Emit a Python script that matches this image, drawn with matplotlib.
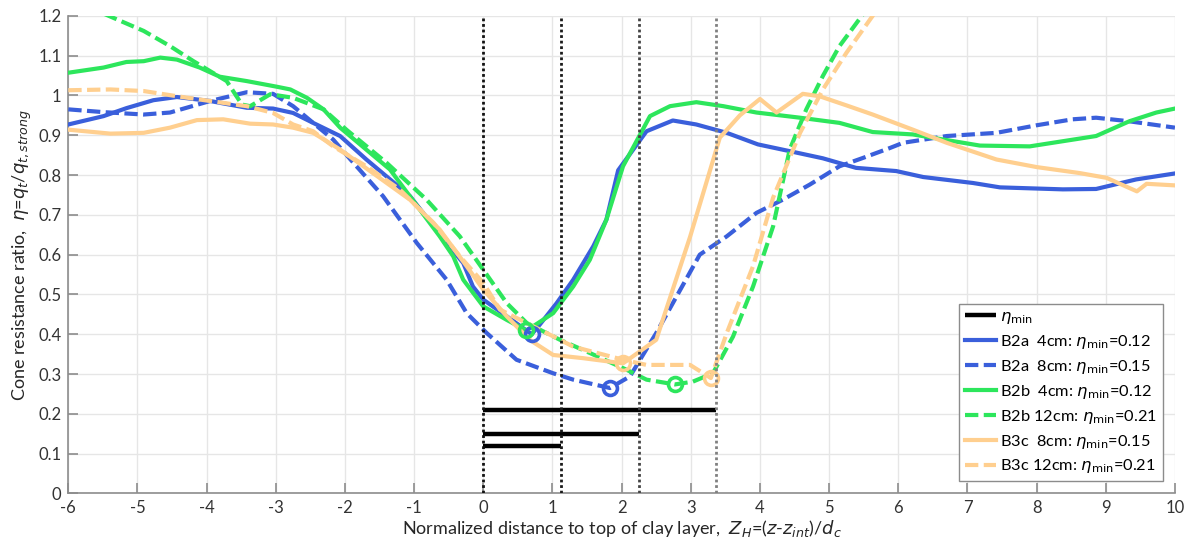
import matplotlib
matplotlib.use("Agg")
import matplotlib.pyplot as plt
from matplotlib.ticker import FuncFormatter

plt.rcParams['font.family'] = ['Lato', 'DejaVu Sans']
plt.rcParams['mathtext.fontset'] = 'dejavusans'

# ---- data ----
b2a4_x = [-6, -5.49, -5.16, -4.77, -4.43, -3.95, -3.42, -3.04, -2.75, -2.46, -2.07, -1.69, -1.06,
          -0.53, -0.29, -0.15, 0, 0.34, 0.70, 0.82, 1.06, 1.30, 1.59, 1.78, 1.95, 2.36, 2.74, 3.08, 3.52,
          3.97, 4.43, 4.91, 5.39, 5.97, 6.36, 7.08, 7.47, 8.38, 8.86, 9.44, 10]
b2a4_y = [0.927, 0.948, 0.968, 0.988, 0.996, 0.986, 0.969, 0.967, 0.956, 0.931, 0.898, 0.839, 0.747,
          0.629, 0.579, 0.520, 0.487, 0.445, 0.400, 0.425, 0.478, 0.537, 0.621, 0.688, 0.812, 0.910, 0.937,
          0.927, 0.906, 0.877, 0.860, 0.842, 0.818, 0.810, 0.795, 0.780, 0.769, 0.764, 0.765, 0.789, 0.804]

b2a8_x = [-6, -5.49, -4.91, -4.53, -3.95, -3.42, -3.04, -2.75, -2.46, -2.17, -1.92, -1.45, -0.96, -0.53,
          -0.24, 0.05, 0.48, 1.01, 1.30, 1.83, 2.12, 2.50, 3.13, 3.52, 3.95, 4.33, 4.72, 5.15, 5.49, 5.88,
          6.07, 6.70, 7.42, 8.0, 8.52, 8.86, 9.34, 10]
b2a8_y = [0.965, 0.958, 0.952, 0.957, 0.986, 1.008, 1.004, 0.973, 0.931, 0.889, 0.839, 0.747, 0.629, 0.537,
          0.453, 0.403, 0.336, 0.302, 0.286, 0.265, 0.294, 0.403, 0.600, 0.646, 0.705, 0.738, 0.776, 0.822,
          0.843, 0.868, 0.881, 0.898, 0.906, 0.925, 0.940, 0.944, 0.935, 0.919]

b2b4_x = [-6, -5.49, -5.16, -4.91, -4.67, -4.43, -4.10, -3.81, -3.42, -2.99, -2.79, -2.55, -2.31, -2.07,
          -1.35, -0.63, -0.435, -0.29, 0, 0.34, 0.62, 0.72, 1.01, 1.30, 1.54, 1.78, 2.02, 2.41, 2.70, 3.08,
          3.47, 3.95, 4.58, 5.15, 5.63, 6.21, 7.18, 7.90, 8.86, 9.34, 9.73, 10]
b2b4_y = [1.057, 1.070, 1.084, 1.086, 1.095, 1.090, 1.070, 1.047, 1.036, 1.022, 1.015, 0.994, 0.965, 0.919,
          0.814, 0.646, 0.596, 0.537, 0.470, 0.436, 0.410, 0.420, 0.453, 0.520, 0.587, 0.688, 0.822, 0.948,
          0.973, 0.983, 0.973, 0.957, 0.944, 0.931, 0.908, 0.902, 0.874, 0.872, 0.898, 0.935, 0.957, 0.967]

b2b12_x = [-6, -5.47, -4.91, -4.53, -4.19, -3.95, -3.71, -3.49, -3.37, -3.08, -2.75, -2.31, -1.98, -1.40,
           -0.82, -0.34, 0, 0.34, 0.63, 1.11, 1.54, 2.07, 2.36, 2.77, 3.03, 3.32, 3.61, 3.90, 4.19, 4.43,
           4.67, 4.91, 5.15, 5.49, 5.80]
b2b12_y = [1.244, 1.204, 1.162, 1.124, 1.086, 1.061, 1.036, 0.977, 0.973, 1.003, 0.994, 0.965, 0.914, 0.831,
           0.738, 0.646, 0.562, 0.478, 0.428, 0.386, 0.353, 0.311, 0.286, 0.274, 0.281, 0.302, 0.394, 0.520,
           0.671, 0.864, 0.965, 1.049, 1.124, 1.204, 1.260]

b3c8_x = [-6, -5.39, -4.91, -4.53, -4.14, -3.76, -3.37, -3.04, -2.75, -2.46, -2.07, -1.06, -0.63, -0.24,
          0, 0.34, 0.67, 1.01, 1.44, 2.02, 2.50, 2.99, 3.42, 3.71, 4.0, 4.24, 4.62, 4.86, 5.25, 5.63, 6.21,
          6.70, 7.42, 8.0, 8.62, 9.01, 9.45, 9.59, 10]
b3c8_y = [0.914, 0.904, 0.906, 0.919, 0.938, 0.940, 0.929, 0.927, 0.919, 0.906, 0.864, 0.738, 0.663, 0.571,
          0.512, 0.445, 0.386, 0.348, 0.340, 0.327, 0.386, 0.645, 0.894, 0.950, 0.991, 0.957, 1.004, 0.998,
          0.975, 0.952, 0.914, 0.881, 0.839, 0.820, 0.805, 0.793, 0.759, 0.778, 0.774]

b3c12_x = [-6, -5.39, -4.91, -4.43, -3.95, -3.42, -3.04, -2.75, -2.46, -2.17, -1.69, -1.21, -0.72, -0.34,
           0, 0.24, 0.63, 1.11, 1.30, 2.02, 2.36, 2.99, 3.29, 3.52, 3.90, 4.19, 4.58, 4.91, 5.25, 5.63, 5.90]
b3c12_y = [1.013, 1.015, 1.011, 0.998, 0.986, 0.973, 0.956, 0.927, 0.910, 0.872, 0.822, 0.764, 0.680, 0.596,
           0.529, 0.462, 0.428, 0.386, 0.369, 0.336, 0.323, 0.323, 0.290, 0.403, 0.571, 0.743, 0.906, 1.015,
           1.107, 1.200, 1.270]

series_labels = ['B2a  4cm: $\\eta_{\\rm min}$=0.12', 'B2a  8cm: $\\eta_{\\rm min}$=0.15',
                 'B2b  4cm: $\\eta_{\\rm min}$=0.12', 'B2b 12cm: $\\eta_{\\rm min}$=0.21',
                 'B3c  8cm: $\\eta_{\\rm min}$=0.15', 'B3c 12cm: $\\eta_{\\rm min}$=0.21']
min_x = [0.70, 1.83, 0.62, 2.77, 2.02, 3.29]
min_y = [0.400, 0.265, 0.410, 0.274, 0.327, 0.290]

eta_min = [0.12, 0.15, 0.21]
eta_extent = [1.13, 2.25, 3.37]
vline_x = [0, 1.13, 2.25, 3.37]

x_ticks = list(range(-6, 11))
y_ticks = [0, 0.1, 0.2, 0.3, 0.4, 0.5, 0.6, 0.7, 0.8, 0.9, 1.0, 1.1, 1.2]

# ---- styles ----
BLUE = '#3a5fdb'
GREEN = '#2de65c'
ORANGE = '#ffcf8f'
colors = [BLUE, BLUE, GREEN, GREEN, ORANGE, ORANGE]
dash = (0, (3.2, 1.3))
styles = ['-', dash, '-', dash, '-', dash]
vline_colors = ['#111111', '#1a1a1a', '#444444', '#808080']

fig = plt.figure(figsize=(11.92, 5.45), dpi=100)
ax = fig.add_axes([0.0573, 0.0945, 0.9284, 0.8765])

# eta_min horizontal bars
h_eta, = ax.plot([0, eta_extent[2]], [eta_min[2], eta_min[2]], color='black', lw=3.2, zorder=2,
                 solid_capstyle='butt', label='$\\eta_{\\rm min}$')
for e, ext in zip(eta_min[:2], eta_extent[:2]):
    ax.plot([0, ext], [e, e], color='black', lw=3.2, zorder=2, solid_capstyle='butt')

xs = [b2a4_x, b2a8_x, b2b4_x, b2b12_x, b3c8_x, b3c12_x]
ys = [b2a4_y, b2a8_y, b2b4_y, b2b12_y, b3c8_y, b3c12_y]
handles = [h_eta]
for i in range(6):
    h, = ax.plot(xs[i], ys[i], color=colors[i], linestyle=styles[i], lw=3.0, zorder=3,
                 label=series_labels[i])
    handles.append(h)
    ax.plot([min_x[i]], [min_y[i]], marker='o', ms=10, mfc='none', mec=colors[i], mew=2.6,
            linestyle='none', zorder=4)

for xv, c in zip(vline_x, vline_colors):
    ax.axvline(xv, color=c, lw=2.0, linestyle=(0, (1, 1)), zorder=5)

ax.set_xlim(-6, 10)
ax.set_ylim(0, 1.2)
ax.set_xticks(x_ticks)
ax.set_yticks(y_ticks)
ax.xaxis.set_major_formatter(FuncFormatter(lambda v, p: '%g' % v))
ax.yaxis.set_major_formatter(FuncFormatter(lambda v, p: '%g' % round(v, 2)))
ax.grid(True, color='#e6e6e6', lw=1.0, zorder=0)
ax.set_axisbelow(True)
for s in ['top', 'right']:
    ax.spines[s].set_visible(False)
for s in ['left', 'bottom']:
    ax.spines[s].set_color('#8c8c8c')
    ax.spines[s].set_linewidth(1.2)
ax.tick_params(direction='in', length=7, width=1.2, color='#8c8c8c', labelcolor='#333333',
               labelsize=12, pad=5)

ax.set_xlabel('Normalized distance to top of clay layer,  $Z_H$=($z$-$z_{int}$)/$d_c$',
              fontsize=13, color='#262626', labelpad=1)
ax.set_ylabel('Cone resistance ratio,  $\\eta$=$q_t$/$q_{t,strong}$', fontsize=13,
              color='#262626', labelpad=3)

leg = ax.legend(handles=handles, loc='lower right', fontsize=11.8, handlelength=1.9,
                handletextpad=0.25, labelspacing=0.42, borderpad=0.35, borderaxespad=0.75,
                fancybox=False, framealpha=1, edgecolor='#8c8c8c')
leg.get_frame().set_linewidth(1.0)
leg.set_zorder(10)

fig.savefig('out.png', dpi=100)
